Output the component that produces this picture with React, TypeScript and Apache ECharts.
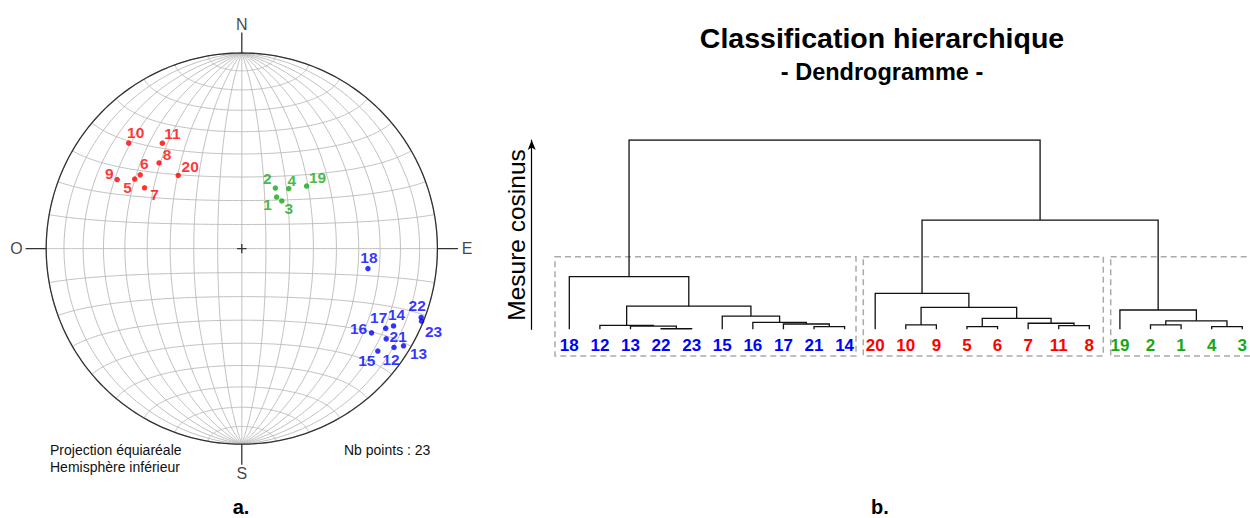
import React, { useEffect, useRef } from "react";
import * as echarts from "echarts";

const FONT = '"Liberation Sans", Arial, Helvetica, sans-serif';

// ---- Stereonet data (lower hemisphere, trend / plunge in degrees) ----
const pointIds = [1, 2, 3, 4, 5, 6, 7, 8, 9, 10, 11, 12, 13, 14, 15, 16, 17, 18, 19, 20, 21, 22, 23];
const pointTrend = [34, 29, 40, 38, 303, 306, 302, 316, 299, 313, 323, 123, 121, 117, 127, 123, 119, 99, 46, 319, 122, 111, 112];
const pointPlunge = [64, 61, 64, 58, 35, 36, 41, 39, 28, 22, 33, 8, 4, 14, 14, 22, 17, 35, 52, 49, 14, 2, 1];
const pointGroup = ["g", "g", "g", "g", "r", "r", "r", "r", "r", "r", "r", "b", "b", "b", "b", "b", "b", "b", "g", "r", "b", "b", "b"];

// label placement around each point (pixels)
const labelOffsetX = [-9, -8, 7, 3, -7, 4, 10, 8, -8, 7, 10, -3, 15, 3, -11, -13, -7, 1, 11, 12, 12, -4, 12];
const labelOffsetY = [7, -10, 8, -8, 8, -11, 7, -8, -6, -11, -10, 12, 8, -11, 9, -4, -11, -11, -9, -9, -2, -12, 10];

const cardinalLabels = ["N", "E", "S", "O"];
const gridStep = 10;

// ---- Dendrogram data ----
const leafOrder = [18, 12, 13, 22, 23, 15, 16, 17, 21, 14, 20, 10, 9, 5, 6, 7, 11, 8, 19, 2, 1, 4, 3];
const mergeA = ["p22", "p13", "p12", "p21", "p17", "p16", "p15", "m2", "p18", "p10", "p5", "p11", "p7", "m10", "m9", "p20", "p2", "p4", "m16", "p19", "m15", "m8"];
const mergeB = ["p23", "m0", "m1", "p14", "m3", "m4", "m5", "m6", "m7", "p9", "p6", "p8", "m11", "m12", "m13", "m14", "p1", "p3", "m17", "m18", "m19", "m20"];
const mergeH = [0.003, 0.017, 0.021, 0.014, 0.028, 0.037, 0.07, 0.122, 0.278, 0.023, 0.014, 0.019, 0.032, 0.058, 0.116, 0.19, 0.023, 0.014, 0.045, 0.102, 0.577, 1.0];

const COLORS: Record<string, string> = { r: "#ff0000", g: "#16a816", b: "#0000ff" };
const D = Math.PI / 180;

function projectLineation(trend: number, plunge: number): [number, number] {
  const th = (90 - plunge) * D;
  const r = Math.SQRT2 * Math.sin(th / 2);
  return [r * Math.sin(trend * D), r * Math.cos(trend * D)];
}
function projectGrid(lat: number, lon: number): [number, number] {
  const p = lat * D, l = lon * D;
  const k = Math.sqrt(1 / (1 + Math.cos(p) * Math.cos(l)));
  return [k * Math.cos(p) * Math.sin(l), k * Math.sin(p)];
}

export default function App() {
  const ref = useRef<HTMLDivElement>(null);
  useEffect(() => {
    if (!ref.current) return;
    const chart = echarts.init(ref.current, null, { renderer: "svg" });

    // graticule
    const grat: any[] = [];
    for (let lon = -90; lon <= 90; lon += gridStep) {
      const c: [number, number][] = [];
      for (let lat = -90; lat <= 90; lat += 1) c.push(projectGrid(lat, lon));
      grat.push({ coords: c });
    }
    for (let lat = -90 + gridStep; lat <= 90 - gridStep; lat += gridStep) {
      const c: [number, number][] = [];
      for (let lon = -90; lon <= 90; lon += 1) c.push(projectGrid(lat, lon));
      grat.push({ coords: c });
    }
    const circle: [number, number][] = [];
    for (let a = 0; a <= 360; a += 1) circle.push([Math.cos(a * D), Math.sin(a * D)]);
    const ext = 1.105, cr = 0.024;
    const darkLines = [
      { coords: circle },
      { coords: [[0, 1], [0, ext]] },
      { coords: [[0, -1], [0, -ext]] },
      { coords: [[1, 0], [ext, 0]] },
      { coords: [[-1, 0], [-ext, 0]] },
      { coords: [[-cr, 0], [cr, 0]] },
      { coords: [[0, -cr], [0, cr]] },
    ];

    const pts = pointIds.map((id, i) => {
      const [x, y] = projectLineation(pointTrend[i], pointPlunge[i]);
      const col = COLORS[pointGroup[i]];
      return {
        name: String(id),
        value: [x, y],
        itemStyle: { color: col },
        label: { color: col, offset: [labelOffsetX[i], labelOffsetY[i]] },
      };
    });

    const cardPos: Record<string, [number, number]> = { N: [0, 1.148], E: [1.152, 0], S: [0, -1.148], O: [-1.152, 0] };
    const cards = cardinalLabels.map((c) => ({ name: c, value: cardPos[c] }));

    // dendrogram geometry
    const pos: Record<string, [number, number]> = {};
    leafOrder.forEach((id, i) => (pos["p" + id] = [i, 0]));
    const dendro: any[] = [];
    mergeH.forEach((h, i) => {
      const a = pos[mergeA[i]], b = pos[mergeB[i]];
      dendro.push({ coords: [[a[0], a[1]], [a[0], h], [b[0], h], [b[0], b[1]]] });
      pos["m" + i] = [(a[0] + b[0]) / 2, h];
    });
    const leafGroupOf = (id: number) => pointGroup[pointIds.indexOf(id)];

    const R = 195.6, cx = 241.8, cy = 248.6, span = 1.2;
    const option: any = {
      animation: false,
      backgroundColor: "#fff",
      textStyle: { fontFamily: FONT },
      grid: [
        { left: cx - span * R, top: cy - span * R, width: 2 * span * R, height: 2 * span * R, containLabel: false },
        { left: 569.3, top: 140, width: 677, height: 189.3, containLabel: false },
      ],
      xAxis: [
        { gridIndex: 0, type: "value", min: -span, max: span, show: false },
        {
          gridIndex: 1, type: "value", min: 0, max: 22, interval: 1,
          axisLine: { show: false }, axisTick: { show: false }, splitLine: { show: false },
          axisLabel: {
            show: true, margin: 8,
            formatter: (v: number) => {
              const id = leafOrder[Math.round(v)];
              return id == null ? "" : `{${leafGroupOf(id)}|${id}}`;
            },
            rich: {
              r: { color: COLORS.r, fontSize: 17, fontWeight: "bold", fontFamily: FONT },
              g: { color: COLORS.g, fontSize: 17, fontWeight: "bold", fontFamily: FONT },
              b: { color: COLORS.b, fontSize: 17, fontWeight: "bold", fontFamily: FONT },
            },
          },
        },
      ],
      yAxis: [
        { gridIndex: 0, type: "value", min: -span, max: span, show: false },
        {
          gridIndex: 1, type: "value", min: 0, max: 1, position: "left", offset: 37.6,
          axisLine: { show: true, onZero: false, symbol: ["none", "arrow"], symbolSize: [6, 10], lineStyle: { color: "#000", width: 1.2 } },
          axisTick: { show: false }, axisLabel: { show: false }, splitLine: { show: false },
        },
      ],
      series: [
        {
          type: "lines", coordinateSystem: "cartesian2d", xAxisIndex: 0, yAxisIndex: 0, polyline: true, silent: true,
          lineStyle: { color: "#bdbdbd", width: 0.95, opacity: 1 }, data: grat,
        },
        {
          type: "lines", coordinateSystem: "cartesian2d", xAxisIndex: 0, yAxisIndex: 0, polyline: true, silent: true,
          lineStyle: { color: "#333", width: 1.3, opacity: 1 }, data: darkLines,
        },
        {
          type: "scatter", xAxisIndex: 0, yAxisIndex: 0, symbolSize: 5.5, data: pts, silent: true,
          label: { show: true, formatter: "{b}", position: "inside", align: "center", verticalAlign: "middle", fontSize: 15.5, fontWeight: "bold", fontFamily: FONT },
        },
        {
          type: "scatter", xAxisIndex: 0, yAxisIndex: 0, symbolSize: 0, data: cards, silent: true,
          label: { show: true, formatter: "{b}", position: "inside", color: "#111", fontSize: 16, fontFamily: FONT },
        },
        {
          type: "lines", coordinateSystem: "cartesian2d", xAxisIndex: 1, yAxisIndex: 1, polyline: true, silent: true,
          lineStyle: { color: "#111", width: 1.3, opacity: 1 }, data: dendro,
        },
      ],
      graphic: [
        { type: "text", x: 50, y: 449.5, style: { text: "Projection équiaréale", fill: "#111", font: `14px ${FONT}`, textAlign: "left", textVerticalAlign: "middle" } },
        { type: "text", x: 50, y: 466.7, style: { text: "Hemisphère inférieur", fill: "#111", font: `14px ${FONT}`, textAlign: "left", textVerticalAlign: "middle" } },
        { type: "text", x: 344, y: 449.5, style: { text: `Nb points : ${pointIds.length}`, fill: "#111", font: `14px ${FONT}`, textAlign: "left", textVerticalAlign: "middle" } },
        { type: "text", x: 241, y: 506.5, style: { text: "a.", fill: "#000", font: `bold 20px ${FONT}`, textAlign: "center", textVerticalAlign: "middle" } },
        { type: "text", x: 880, y: 506.5, style: { text: "b.", fill: "#000", font: `bold 20px ${FONT}`, textAlign: "center", textVerticalAlign: "middle" } },
        { type: "text", x: 882, y: 38, style: { text: "Classification hierarchique", fill: "#000", font: `bold 28.5px ${FONT}`, textAlign: "center", textVerticalAlign: "middle" } },
        { type: "text", x: 882, y: 72, style: { text: "- Dendrogramme -", fill: "#000", font: `bold 23.5px ${FONT}`, textAlign: "center", textVerticalAlign: "middle" } },
        { type: "text", x: 516.7, y: 235, rotation: Math.PI / 2, style: { text: "Mesure cosinus", fill: "#000", font: `24.5px ${FONT}`, textAlign: "center", textVerticalAlign: "middle" } },
        { type: "rect", shape: { x: 555, y: 256.7, width: 301, height: 99.3 }, style: { fill: "none", stroke: "#aaa", lineWidth: 1.5, lineDash: [6, 4] } },
        { type: "rect", shape: { x: 863.3, y: 256.7, width: 240, height: 99.3 }, style: { fill: "none", stroke: "#aaa", lineWidth: 1.5, lineDash: [6, 4] } },
        { type: "rect", shape: { x: 1110.7, y: 256.7, width: 160, height: 99.3 }, style: { fill: "none", stroke: "#aaa", lineWidth: 1.5, lineDash: [6, 4] } },
      ],
    };
    chart.setOption(option);
    return () => chart.dispose();
  }, []);
  return <div ref={ref} style={{ position: "fixed", left: 0, top: 0, width: 1250, height: 518, background: "#fff" }} />;
}
